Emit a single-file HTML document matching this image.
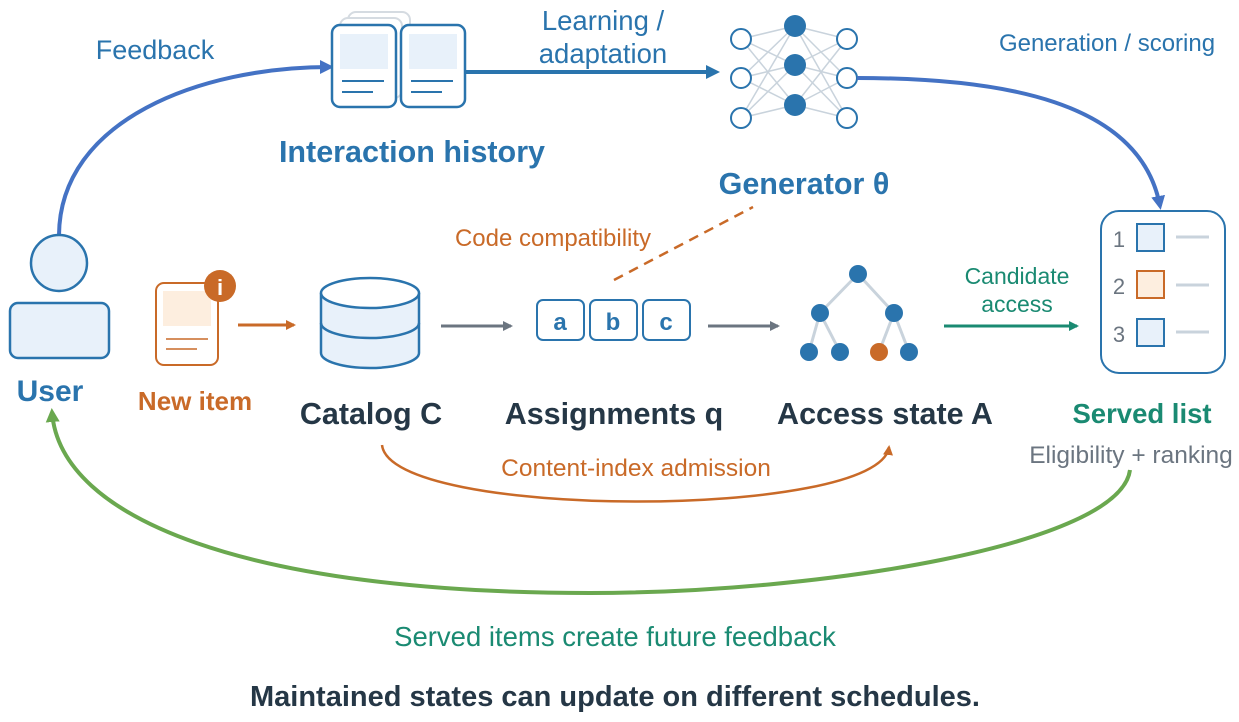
<!DOCTYPE html>
<html><head><meta charset="utf-8"><style>
html,body{margin:0;padding:0;background:#fff;width:1239px;height:722px;overflow:hidden}
text{font-family:"Liberation Sans",sans-serif}
</style></head><body>
<svg width="1239" height="722" viewBox="0 0 1239 722" xmlns="http://www.w3.org/2000/svg">
<defs>
<marker id="mB2" markerWidth="14" markerHeight="14" refX="10" refY="7" orient="auto" markerUnits="userSpaceOnUse"><path d="M0,0 L14,7 L0,14z" fill="#4472c4"/></marker>
<marker id="mD" markerWidth="14" markerHeight="14" refX="10" refY="7" orient="auto" markerUnits="userSpaceOnUse"><path d="M0,0 L14,7 L0,14z" fill="#2a74ad"/></marker>
<marker id="mO" markerWidth="10" markerHeight="10" refX="8" refY="5" orient="auto" markerUnits="userSpaceOnUse"><path d="M0,0 L10,5 L0,10z" fill="#c96a28"/></marker>
<marker id="mG" markerWidth="10" markerHeight="10" refX="8" refY="5" orient="auto" markerUnits="userSpaceOnUse"><path d="M0,0 L10,5 L0,10z" fill="#6b7580"/></marker>
<marker id="mT" markerWidth="10" markerHeight="10" refX="8" refY="5" orient="auto" markerUnits="userSpaceOnUse"><path d="M0,0 L10,5 L0,10z" fill="#1a8a72"/></marker>
<marker id="mGr" markerWidth="14" markerHeight="14" refX="10" refY="7" orient="auto" markerUnits="userSpaceOnUse"><path d="M0,0 L14,7 L0,14z" fill="#6aa84f"/></marker>
</defs>

<path d="M59,235 C60,120 200,67 330,67" fill="none" stroke="#4472c4" stroke-width="4" marker-end="url(#mB2)"/>
<text x="155" y="59" font-size="27" fill="#2a74ad" text-anchor="middle">Feedback</text>

<circle cx="59" cy="263" r="28" fill="#e8f1fa" stroke="#2a74ad" stroke-width="2.5"/>
<rect x="10" y="303" width="99" height="55" rx="8" fill="#e8f1fa" stroke="#2a74ad" stroke-width="2.5"/>
<text x="50" y="401" font-size="30" font-weight="bold" fill="#2a74ad" text-anchor="middle">User</text>

<rect x="348" y="12" width="62" height="80" rx="8" fill="#fff" stroke="#d5dbe1" stroke-width="2"/>
<rect x="340" y="18" width="62" height="80" rx="8" fill="#fff" stroke="#d5dbe1" stroke-width="2"/>
<rect x="332" y="25" width="64" height="82" rx="8" fill="#fff" stroke="#2a74ad" stroke-width="2.5"/>
<rect x="340" y="34" width="48" height="35" fill="#e8f1fa"/>
<line x1="342" y1="81" x2="384" y2="81" stroke="#2a74ad" stroke-width="2"/>
<line x1="342" y1="92" x2="373" y2="92" stroke="#2a74ad" stroke-width="2"/>
<rect x="401" y="25" width="64" height="82" rx="8" fill="#fff" stroke="#2a74ad" stroke-width="2.5"/>
<rect x="409" y="34" width="48" height="35" fill="#e8f1fa"/>
<line x1="411" y1="81" x2="453" y2="81" stroke="#2a74ad" stroke-width="2"/>
<line x1="411" y1="92" x2="442" y2="92" stroke="#2a74ad" stroke-width="2"/>
<text x="412" y="162" font-size="30.5" font-weight="bold" fill="#2a74ad" text-anchor="middle">Interaction history</text>

<line x1="465" y1="72" x2="716" y2="72" stroke="#2a74ad" stroke-width="4" marker-end="url(#mD)"/>
<text x="603" y="30" font-size="27.5" fill="#2a74ad" text-anchor="middle">Learning /</text>
<text x="603" y="63" font-size="27.5" fill="#2a74ad" text-anchor="middle">adaptation</text>

<g stroke="#c9d3dc" stroke-width="1.5">
<line x1="741" y1="39" x2="795" y2="26"/><line x1="741" y1="39" x2="795" y2="65"/><line x1="741" y1="39" x2="795" y2="105"/>
<line x1="741" y1="78" x2="795" y2="26"/><line x1="741" y1="78" x2="795" y2="65"/><line x1="741" y1="78" x2="795" y2="105"/>
<line x1="741" y1="118" x2="795" y2="26"/><line x1="741" y1="118" x2="795" y2="65"/><line x1="741" y1="118" x2="795" y2="105"/>
<line x1="847" y1="39" x2="795" y2="26"/><line x1="847" y1="39" x2="795" y2="65"/><line x1="847" y1="39" x2="795" y2="105"/>
<line x1="847" y1="78" x2="795" y2="26"/><line x1="847" y1="78" x2="795" y2="65"/><line x1="847" y1="78" x2="795" y2="105"/>
<line x1="847" y1="118" x2="795" y2="26"/><line x1="847" y1="118" x2="795" y2="65"/><line x1="847" y1="118" x2="795" y2="105"/>
</g>
<g fill="#fff" stroke="#2a74ad" stroke-width="2">
<circle cx="741" cy="39" r="10"/><circle cx="741" cy="78" r="10"/><circle cx="741" cy="118" r="10"/>
<circle cx="847" cy="39" r="10"/><circle cx="847" cy="78" r="10"/><circle cx="847" cy="118" r="10"/>
</g>
<g fill="#2a74ad"><circle cx="795" cy="26" r="11"/><circle cx="795" cy="65" r="11"/><circle cx="795" cy="105" r="11"/></g>
<text x="804" y="194" font-size="30.5" font-weight="bold" fill="#2a74ad" text-anchor="middle">Generator θ</text>

<path d="M857,78 C1000,78 1140,100 1160,206" fill="none" stroke="#4472c4" stroke-width="4" marker-end="url(#mB2)"/>
<text x="1107" y="51" font-size="24" fill="#2a74ad" text-anchor="middle">Generation / scoring</text>

<rect x="156" y="283" width="62" height="82" rx="8" fill="#fff" stroke="#c96a28" stroke-width="2"/>
<rect x="163" y="291" width="48" height="35" fill="#fdeedf"/>
<line x1="166" y1="339" x2="208" y2="339" stroke="#c96a28" stroke-width="1.5"/>
<line x1="166" y1="349" x2="197" y2="349" stroke="#c96a28" stroke-width="1.5"/>
<circle cx="220" cy="286" r="16" fill="#c96a28"/>
<text x="220" y="295" font-size="22" font-weight="bold" fill="#fff" text-anchor="middle">i</text>
<text x="195" y="410" font-size="26" font-weight="bold" fill="#c96a28" text-anchor="middle">New item</text>
<line x1="238" y1="325" x2="294" y2="325" stroke="#c96a28" stroke-width="3" marker-end="url(#mO)"/>

<path d="M321,293 L321,353 A49,15 0 0 0 419,353 L419,293" fill="#e8f1fa" stroke="#2a74ad" stroke-width="2.5"/>
<path d="M321,323 A49,15 0 0 0 419,323" fill="none" stroke="#2a74ad" stroke-width="2.5"/>
<ellipse cx="370" cy="293" rx="49" ry="15" fill="#fff" stroke="#2a74ad" stroke-width="2.5"/>
<text x="371" y="424" font-size="30.5" font-weight="bold" fill="#253746" text-anchor="middle">Catalog C</text>
<line x1="441" y1="326" x2="511" y2="326" stroke="#6b7580" stroke-width="3" marker-end="url(#mG)"/>

<g fill="#fff" stroke="#2a74ad" stroke-width="2">
<rect x="537" y="300" width="47" height="40" rx="6"/><rect x="590" y="300" width="47" height="40" rx="6"/><rect x="643" y="300" width="47" height="40" rx="6"/>
</g>
<g font-size="24" font-weight="bold" fill="#2a74ad" text-anchor="middle">
<text x="560" y="330">a</text><text x="613" y="330">b</text><text x="666" y="330">c</text></g>
<text x="614" y="424" font-size="30.5" font-weight="bold" fill="#253746" text-anchor="middle">Assignments q</text>
<text x="553" y="246" font-size="24" fill="#c96a28" text-anchor="middle">Code compatibility</text>
<line x1="614" y1="280" x2="753" y2="207" stroke="#c96a28" stroke-width="2.5" stroke-dasharray="10,7"/>
<line x1="708" y1="326" x2="778" y2="326" stroke="#6b7580" stroke-width="3" marker-end="url(#mG)"/>

<g stroke="#c9d3dc" stroke-width="3">
<line x1="858" y1="274" x2="820" y2="313"/><line x1="858" y1="274" x2="894" y2="313"/>
<line x1="820" y1="313" x2="809" y2="352"/><line x1="820" y1="313" x2="840" y2="352"/>
<line x1="894" y1="313" x2="879" y2="352"/><line x1="894" y1="313" x2="909" y2="352"/>
</g>
<g fill="#2a74ad"><circle cx="858" cy="274" r="9"/><circle cx="820" cy="313" r="9"/><circle cx="894" cy="313" r="9"/>
<circle cx="809" cy="352" r="9"/><circle cx="840" cy="352" r="9"/><circle cx="909" cy="352" r="9"/></g>
<circle cx="879" cy="352" r="9" fill="#c96a28"/>
<text x="885" y="424" font-size="30.5" font-weight="bold" fill="#253746" text-anchor="middle">Access state A</text>

<line x1="944" y1="326" x2="1077" y2="326" stroke="#1a8a72" stroke-width="3" marker-end="url(#mT)"/>
<text x="1017" y="284" font-size="23" fill="#1a8a72" text-anchor="middle">Candidate</text>
<text x="1017" y="312" font-size="23" fill="#1a8a72" text-anchor="middle">access</text>

<rect x="1101" y="211" width="124" height="162" rx="18" fill="#fff" stroke="#2a74ad" stroke-width="2"/>
<g font-size="22" fill="#6b7580" text-anchor="middle"><text x="1119" y="247">1</text><text x="1119" y="294">2</text><text x="1119" y="342">3</text></g>
<rect x="1137" y="224" width="27" height="27" fill="#e8f1fa" stroke="#2a74ad" stroke-width="2"/>
<rect x="1137" y="271" width="27" height="27" fill="#fdeedf" stroke="#c96a28" stroke-width="2"/>
<rect x="1137" y="319" width="27" height="27" fill="#e8f1fa" stroke="#2a74ad" stroke-width="2"/>
<g stroke="#c9d3dc" stroke-width="3"><line x1="1176" y1="237" x2="1209" y2="237"/><line x1="1176" y1="285" x2="1209" y2="285"/><line x1="1176" y1="332" x2="1209" y2="332"/></g>
<text x="1142" y="423" font-size="27.5" font-weight="bold" fill="#1a8a72" text-anchor="middle">Served list</text>
<text x="1131" y="463" font-size="24.5" fill="#6b7580" text-anchor="middle">Eligibility + ranking</text>

<path d="M382,445 C390,520 880,520 889,447" fill="none" stroke="#c96a28" stroke-width="2.5" marker-end="url(#mO)"/>
<text x="636" y="476" font-size="24.5" fill="#c96a28" text-anchor="middle">Content-index admission</text>

<path d="M1130,470 C1120,545 820,593 590,593 C250,593 60,520 52,412" fill="none" stroke="#6aa84f" stroke-width="4" marker-end="url(#mGr)"/>
<text x="615" y="646" font-size="27.5" fill="#1a8a72" text-anchor="middle">Served items create future feedback</text>
<text x="615" y="706" font-size="29" font-weight="bold" fill="#253746" text-anchor="middle">Maintained states can update on different schedules.</text>
</svg>
</body></html>
